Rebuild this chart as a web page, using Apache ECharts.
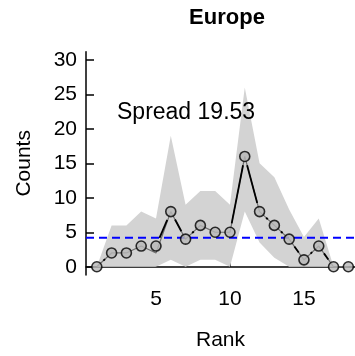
<!DOCTYPE html>
<html><head><meta charset="utf-8">
<script src="https://cdn.jsdelivr.net/npm/echarts@6/dist/echarts.min.js"></script>
<style>html,body{margin:0;padding:0;background:#fff}#c{width:355px;height:356px}</style>
</head><body><div id="c"></div>
<script>
const ranks = [1,2,3,4,5,6,7,8,9,10,11,12,13,14,15,16,17,18];
const observed = [0,2,2,3,3,8,4,6,5,5,16,8,6,4,1,3,0,0];
const median = [0,2,2,3,2,8,4,6,5,5,16,8,6,4,1,3,0,0];
const bandUpper = [0,6,6,8,7,19,9,11,11,9,26,15,13,8.3,4.3,7,0,0];
const bandLower = [0,0,0,0,0,1,0,1,1,0,8,3.5,1.3,0,0,0,0,0];
const meanCount = 4.22;
const xTicks = [5,10,15];
const yTicks = [0,5,10,15,20,25,30];
const titleText = 'Europe';
const spreadText = 'Spread 19.53';
const xName = 'Rank';
const yName = 'Counts';

const FONT = '"Liberation Sans", Arial, Helvetica, sans-serif';
const chart = echarts.init(document.getElementById('c'), null, {renderer:'canvas'});

const segData = [];
for (let i = 0; i < ranks.length - 1; i++) segData.push([ranks[i], observed[i], ranks[i+1], observed[i+1]]);
const bandData = ranks.map((r,i)=>[r, bandLower[i], bandUpper[i]]);
const GAP = 9;

chart.setOption({
  animation:false,
  backgroundColor:'#fff',
  textStyle:{fontFamily:FONT},
  title:{text:titleText, left:222, top:2, textAlign:'center',
    textStyle:{fontFamily:FONT, fontWeight:'bold', fontSize:22, color:'#000'}},
  graphic:[{type:'text', z:100, zlevel:0, left:117, top:101, style:{text:spreadText, font:'23px '+FONT, fill:'#000'}}],
  grid:{left:86, right:0, top:51.7, bottom:80.4, containLabel:false},
  xAxis:{type:'value', min:0.27, max:18.45, name:xName, nameLocation:'middle', nameGap:55,
    nameTextStyle:{fontSize:21, color:'#000', fontFamily:FONT},
    splitLine:{show:false},
    axisLine:{show:true, lineStyle:{color:'#000', width:1.5}},
    axisTick:{show:true, inside:true, length:7, customValues:xTicks, lineStyle:{color:'#000', width:1.5}},
    axisLabel:{customValues:xTicks, fontSize:21, color:'#000', margin:14, fontFamily:FONT}},
  yAxis:{type:'value', min:-1.2, max:31.2, name:yName, nameLocation:'middle', nameGap:51,
    nameTextStyle:{fontSize:21, color:'#000', fontFamily:FONT},
    splitLine:{show:false},
    axisLine:{show:true, lineStyle:{color:'#000', width:1.5}},
    axisTick:{show:true, inside:true, length:8, customValues:yTicks, lineStyle:{color:'#000', width:1.5}},
    axisLabel:{customValues:yTicks, fontSize:21, color:'#000', margin:9, fontFamily:FONT}},
  series:[
    {type:'custom', z:1, data:bandData, encode:{x:0, y:[1,2]}, silent:true,
      renderItem:function(params, api){
        if (params.dataIndex !== 0) return null;
        const pts = [];
        for (let i=0;i<ranks.length;i++) pts.push(api.coord([ranks[i], bandUpper[i]]));
        for (let i=ranks.length-1;i>=0;i--) pts.push(api.coord([ranks[i], bandLower[i]]));
        return {type:'polygon', shape:{points:pts}, style:{fill:'#d3d3d3', stroke:null}};
      }},
    {type:'line', z:2, data:[[0.27, meanCount],[18.45, meanCount]], symbol:'none', silent:true,
      lineStyle:{color:'#0000ff', width:2, type:[8,5]}},
    {type:'line', z:3, data:ranks.map((r,i)=>[r, median[i]]), symbol:'none', silent:true,
      lineStyle:{color:'#6e6e6e', width:1.2}},
    {type:'custom', z:4, data:segData, encode:{x:[0,2], y:[1,3]}, silent:true,
      renderItem:function(params, api){
        const p1 = api.coord([api.value(0), api.value(1)]);
        const p2 = api.coord([api.value(2), api.value(3)]);
        const dx = p2[0]-p1[0], dy = p2[1]-p1[1];
        const len = Math.sqrt(dx*dx+dy*dy);
        if (len <= 2*GAP) return null;
        const ux = dx/len, uy = dy/len;
        return {type:'line', shape:{x1:p1[0]+ux*GAP, y1:p1[1]+uy*GAP, x2:p2[0]-ux*GAP, y2:p2[1]-uy*GAP},
          style:{stroke:'#000', lineWidth:1.8}};
      }},
    {type:'scatter', z:5, data:ranks.map((r,i)=>[r, observed[i]]), symbol:'circle', symbolSize:10, silent:true,
      itemStyle:{color:'#b8b8b8', borderColor:'#000', borderWidth:1.6}}
  ]
});
</script></body></html>
